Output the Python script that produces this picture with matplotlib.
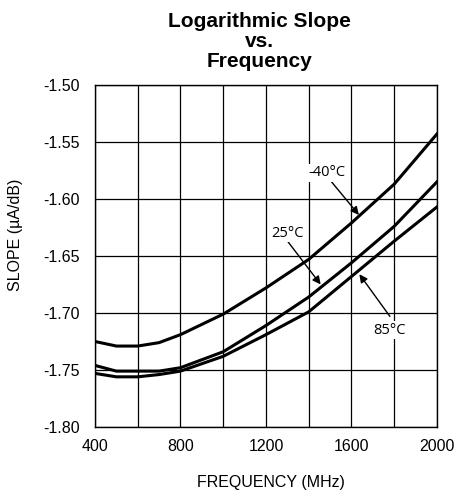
import numpy as np
import matplotlib
matplotlib.use('Agg')
import matplotlib.pyplot as plt

# ── data ──
freq = [400, 500, 600, 700, 800, 1000, 1200, 1400, 1600, 1800, 2000]
slope_m40 = [-1.725, -1.729, -1.729, -1.726, -1.719, -1.701, -1.678, -1.653, -1.621, -1.587, -1.543]
slope_25 = [-1.746, -1.751, -1.751, -1.751, -1.748, -1.734, -1.711, -1.686, -1.656, -1.624, -1.585]
slope_85 = [-1.753, -1.756, -1.756, -1.754, -1.751, -1.738, -1.719, -1.699, -1.668, -1.637, -1.607]

x_ticks = [400, 800, 1200, 1600, 2000]
y_ticks = [-1.80, -1.75, -1.70, -1.65, -1.60, -1.55, -1.50]

plt.rcParams['font.family'] = ['Liberation Sans', 'DejaVu Sans']

fig = plt.figure(figsize=(4.58, 4.93), dpi=100)
ax = fig.add_axes([0.2074, 0.1339, 0.7466, 0.6937])

for ys in (slope_m40, slope_25, slope_85):
    ax.plot(freq, ys, color='black', linewidth=2.2, solid_joinstyle='miter')

ax.set_xlim(400, 2000)
ax.set_ylim(-1.80, -1.50)
ax.set_xticks(np.arange(400, 2001, 200))
ax.set_xticklabels([str(v) if v in x_ticks else '' for v in range(400, 2001, 200)])
ax.set_yticks(y_ticks)
ax.set_yticklabels([f'{v:.2f}' for v in y_ticks])
ax.tick_params(length=0, labelsize=11.5)
ax.tick_params(axis='y', pad=11)
ax.tick_params(axis='x', pad=9)
ax.grid(True, color='black', linewidth=0.9)
for s in ax.spines.values():
    s.set_linewidth(1.0)

# axis titles (placed by hand, the y one sits above the axes centre)
fig.text(271 / 458, 1 - 483 / 493, 'FREQUENCY (MHz)', ha='center', va='center', fontsize=11.5)
fig.text(16 / 458, 1 - 235 / 493, 'SLOPE (µA/dB)', ha='center', va='center', rotation=90, fontsize=11.5)

# ── labels with arrows ──
lab_font = dict(fontsize=10.5, family=['Open Sans', 'DejaVu Sans'])
box = dict(facecolor='white', edgecolor='none', pad=1)
arrow = dict(arrowstyle='-|>', color='black', lw=1.0, mutation_scale=12, shrinkA=0, shrinkB=0)
ax.annotate('', xy=(1635, -1.614), xytext=(1507, -1.585), arrowprops=arrow)
ax.annotate('', xy=(1456, -1.675), xytext=(1303, -1.6375), arrowprops=arrow)
ax.annotate('', xy=(1637, -1.666), xytext=(1780, -1.703), arrowprops=arrow)
ax.text(1485, -1.577, '-40°C', ha='center', va='center', bbox=box, **lab_font)
ax.text(1300, -1.630, '25°C', ha='center', va='center', bbox=box, **lab_font)
ax.text(1780, -1.715, '85°C', ha='center', va='center', bbox=box, **lab_font)

# ── title ──
tx = 259.5 / 458
fig.text(tx, 1 - 27 / 493, 'Logarithmic Slope', ha='center', va='baseline', fontsize=15, fontweight='bold')
fig.text(tx, 1 - 47 / 493, 'vs.', ha='center', va='baseline', fontsize=15, fontweight='bold')
fig.text(tx, 1 - 67 / 493, 'Frequency', ha='center', va='baseline', fontsize=15, fontweight='bold')

plt.savefig('out.png', dpi=100)
plt.close()
